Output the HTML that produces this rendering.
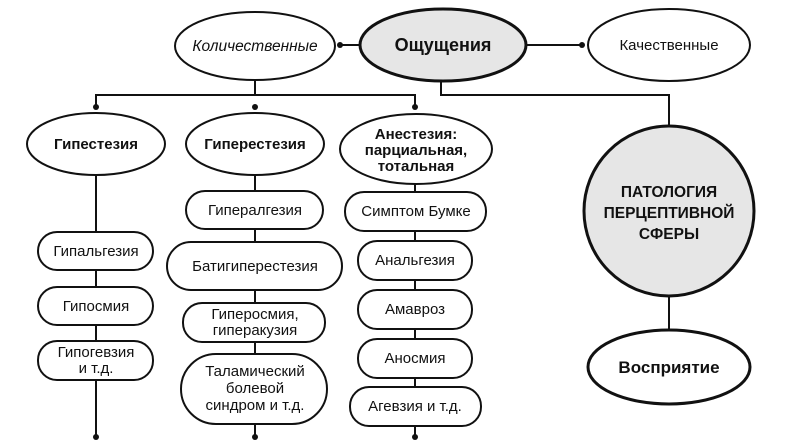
<!DOCTYPE html>
<html><head><meta charset="utf-8"><style>
html,body{margin:0;padding:0;background:#fff;}
svg{display:block;}
text{font-family:"Liberation Sans","DejaVu Sans",sans-serif;fill:#111;text-anchor:middle;}
.s{fill:#fff;stroke:#111;stroke-width:2;}
.l{stroke:#111;stroke-width:2;fill:none;}
</style></head><body>
<svg width="802" height="445" viewBox="0 0 802 445" xmlns="http://www.w3.org/2000/svg">
<path class="l" d="M340 45 H360"/>
<circle cx="340" cy="45" r="3" fill="#111"/>
<path class="l" d="M527 45 H581"/>
<circle cx="582" cy="45" r="3" fill="#111"/>
<path class="l" d="M441 80 V95 H669 V130"/>
<path class="l" d="M255 80 V95"/>
<path class="l" d="M96 107 V95 H415 V107"/>
<circle cx="96" cy="107" r="3" fill="#111"/>
<circle cx="255" cy="107" r="3" fill="#111"/>
<circle cx="415" cy="107" r="3" fill="#111"/>
<path class="l" d="M96 175 V437"/>
<path class="l" d="M255 175 V437"/>
<path class="l" d="M415 183 V437"/>
<circle cx="96" cy="437" r="3" fill="#111"/>
<circle cx="255" cy="437" r="3" fill="#111"/>
<circle cx="415" cy="437" r="3" fill="#111"/>
<path class="l" d="M669 295 V330"/>

<ellipse class="s" cx="255" cy="46" rx="80" ry="34"/>
<text x="255" y="51" font-size="15.5" font-style="italic">Количественные</text>
<ellipse cx="443" cy="45" rx="83" ry="36" fill="#e6e6e6" stroke="#111" stroke-width="3"/>
<text x="443" y="51" font-size="18" font-weight="600">Ощущения</text>
<ellipse class="s" cx="669" cy="45" rx="81" ry="36"/>
<text x="669" y="50" font-size="15">Качественные</text>

<circle cx="669" cy="211" r="85" fill="#e6e6e6" stroke="#111" stroke-width="3"/>
<text x="669" y="197" font-size="15.5" font-weight="bold">ПАТОЛОГИЯ</text>
<text x="669" y="218" font-size="15.5" font-weight="bold">ПЕРЦЕПТИВНОЙ</text>
<text x="669" y="239" font-size="15.5" font-weight="bold">СФЕРЫ</text>
<ellipse cx="669" cy="367" rx="81" ry="37" fill="#fff" stroke="#111" stroke-width="3"/>
<text x="669" y="373" font-size="17" font-weight="bold">Восприятие</text>

<ellipse class="s" cx="96" cy="144" rx="69" ry="31"/>
<text x="96" y="149" font-size="15" font-weight="bold">Гипестезия</text>
<ellipse class="s" cx="255" cy="144" rx="69" ry="31"/>
<text x="255" y="149" font-size="15" font-weight="bold">Гиперестезия</text>
<ellipse class="s" cx="416" cy="149" rx="76" ry="35"/>
<text x="416" y="139" font-size="15" font-weight="bold">Анестезия:</text>
<text x="416" y="155" font-size="15" font-weight="bold">парциальная,</text>
<text x="416" y="171" font-size="15" font-weight="bold">тотальная</text>

<rect class="s" x="38" y="232" width="115" height="38" rx="19"/>
<text x="96" y="256" font-size="15">Гипальгезия</text>
<rect class="s" x="38" y="287" width="115" height="38" rx="19"/>
<text x="96" y="311" font-size="15">Гипосмия</text>
<rect class="s" x="38" y="341" width="115" height="39" rx="19"/>
<text x="96" y="357" font-size="15">Гипогевзия</text>
<text x="96" y="373" font-size="15">и т.д.</text>

<rect class="s" x="186" y="191" width="137" height="38" rx="19"/>
<text x="255" y="215" font-size="15">Гипералгезия</text>
<rect class="s" x="167" y="242" width="175" height="48" rx="24"/>
<text x="255" y="271" font-size="15">Батигиперестезия</text>
<rect class="s" x="183" y="303" width="142" height="39" rx="19"/>
<text x="255" y="319" font-size="15">Гиперосмия,</text>
<text x="255" y="335" font-size="15">гиперакузия</text>
<rect class="s" x="181" y="354" width="146" height="70" rx="35"/>
<text x="255" y="376" font-size="15">Таламический</text>
<text x="255" y="393" font-size="15">болевой</text>
<text x="255" y="410" font-size="15">синдром и т.д.</text>

<rect class="s" x="345" y="192" width="141" height="39" rx="19"/>
<text x="416" y="216" font-size="15">Симптом Бумке</text>
<rect class="s" x="358" y="241" width="114" height="39" rx="19"/>
<text x="415" y="265" font-size="15">Анальгезия</text>
<rect class="s" x="358" y="290" width="114" height="39" rx="19"/>
<text x="415" y="314" font-size="15">Амавроз</text>
<rect class="s" x="358" y="339" width="114" height="39" rx="19"/>
<text x="415" y="363" font-size="15">Аносмия</text>
<rect class="s" x="350" y="387" width="131" height="39" rx="19"/>
<text x="415" y="411" font-size="15">Агевзия и т.д.</text>
</svg>
</body></html>
